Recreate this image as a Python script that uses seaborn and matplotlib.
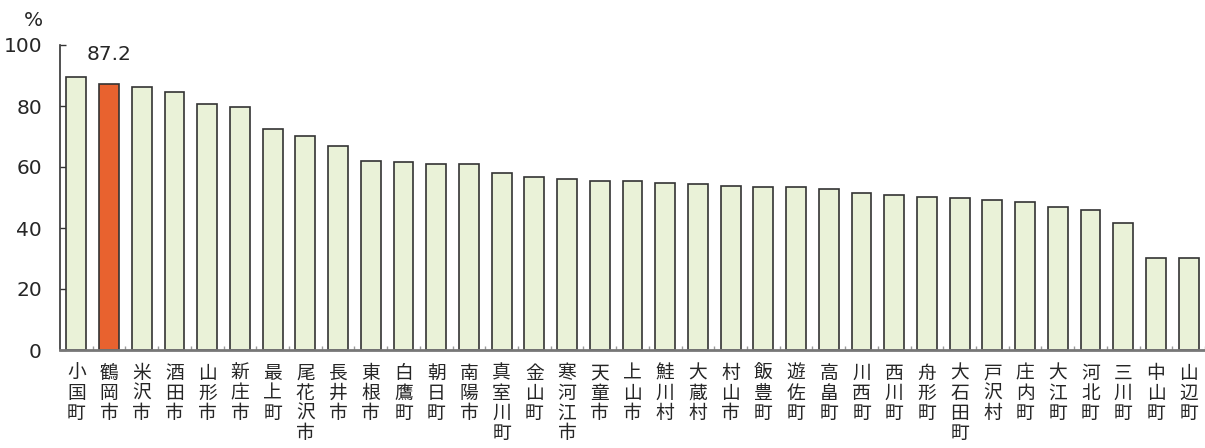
import matplotlib
matplotlib.use("Agg")
import matplotlib.pyplot as plt
import seaborn as sns

names = ["小国町", "鶴岡市", "米沢市", "酒田市", "山形市", "新庄市", "最上町", "尾花沢市",
         "長井市", "東根市", "白鷹町", "朝日町", "南陽市", "真室川町", "金山町", "寒河江市",
         "天童市", "上山市", "鮭川村", "大蔵村", "村山市", "飯豊町", "遊佐町", "高畠町",
         "川西町", "西川町", "舟形町", "大石田町", "戸沢村", "庄内町", "大江町", "河北町",
         "三川町", "中山町", "山辺町"]
values = [89.6, 87.2, 86.2, 84.6, 80.6, 79.8, 72.5, 70.0,
          66.8, 62.0, 61.7, 61.0, 61.0, 58.1, 56.8, 56.2,
          55.5, 55.5, 54.8, 54.4, 53.8, 53.5, 53.3, 52.8,
          51.6, 50.8, 50.2, 49.9, 49.2, 48.5, 46.8, 45.9,
          41.8, 30.2, 30.1]
highlight = "鶴岡市"

sns.set_style("white")
plt.rcParams['font.family'] = ['Noto Sans CJK JP', 'DejaVu Sans']
num_kw = dict(family=['DejaVu Sans'], fontsize=14.5)

colors = {n: ("#E8622F" if n == highlight else "#EAF2D8") for n in names}

fig = plt.figure(figsize=(12.05, 4.48), dpi=100)
ax = fig.add_axes([60 / 1205, 98 / 448, 1 - 60 / 1205, 305 / 448])

sns.barplot(x=names, y=values, hue=names, palette=colors, legend=False, errorbar=None,
            saturation=1, width=0.61, edgecolor="#333333", linewidth=1.2, ax=ax)

ax.set_ylim(0, 100)
ax.set_xlim(-0.5, len(names) - 0.5)
ax.set_yticks([0, 20, 40, 60, 80, 100])
ax.set_yticklabels([0, 20, 40, 60, 80, 100], **num_kw)
ax.tick_params(axis='y', direction='in', length=4, width=1, color="#333333", pad=13, left=True, right=False)

# city names written vertically, one character per line
ax.set_xticks(range(len(names)))
ax.set_xticklabels(["\n".join(n) for n in names], fontsize=13.5, linespacing=0.95, va='top')
ax.tick_params(axis='x', length=0, pad=9, top=False)
ax.set_xticks([i + 0.5 for i in range(len(names))], minor=True)
ax.tick_params(axis='x', which='minor', direction='in', length=3, width=1, color="#999999",
               bottom=True, top=False)

for s in ["top", "right"]:
    ax.spines[s].set_visible(False)
ax.spines["left"].set_color("#333333")
ax.spines["left"].set_linewidth(1.2)
ax.spines["bottom"].set_color("#777777")
ax.spines["bottom"].set_linewidth(2)

i = names.index(highlight)
ax.text(i, 97, "87.2", ha='center', va='center', **num_kw)
fig.text(33 / 1205, 1 - 20 / 448, "%", ha='center', va='center', **num_kw)

fig.savefig("out.png", dpi=100)
